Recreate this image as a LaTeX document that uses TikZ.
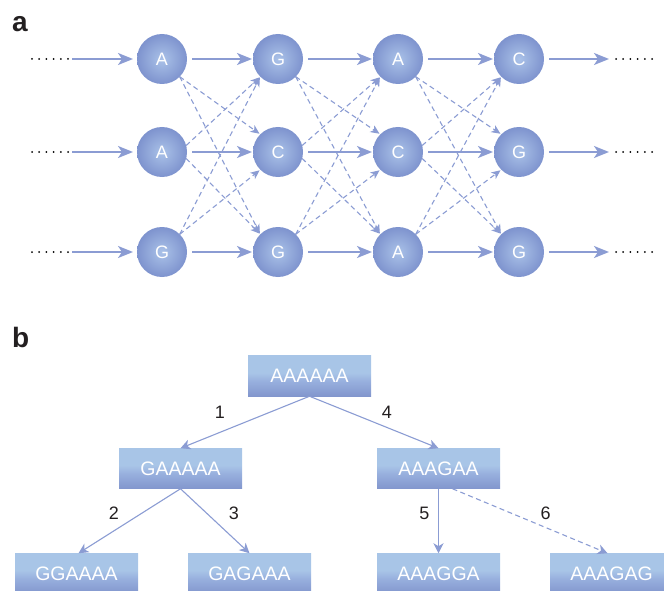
\documentclass[tikz,border=0pt]{standalone}
\usepackage{fontspec}
\setmainfont{Liberation Sans}
\usetikzlibrary{arrows.meta}
\definecolor{lineblue}{HTML}{8B9CD3}
\definecolor{ballin}{HTML}{AAC2E8}
\definecolor{ballout}{HTML}{7E93CE}
\definecolor{blight}{HTML}{A8C5E7}
\definecolor{bmid}{HTML}{98B0DE}
\definecolor{bdark}{HTML}{8296CD}
\definecolor{txtblack}{HTML}{231F20}
\pgfdeclareverticalshading{boxshade}{100bp}{color(0bp)=(bdark); color(25bp)=(bdark); color(44bp)=(bmid); color(54bp)=(blight); color(100bp)=(blight)}
\tikzset{
  ball/.style={circle, minimum size=50pt, inner sep=0pt, outer sep=0pt,
    shading=radial, inner color=ballin, outer color=ballout,
    text=white, font=\fontsize{18}{18}\selectfont},
  seqbox/.style={rectangle, minimum width=123pt, minimum height=40.5pt, inner sep=0pt, outer sep=0pt,
    shading=boxshade, text=white, font=\fontsize{19.5}{20}\selectfont},
  solidarrow/.style={draw=lineblue, line width=2pt, -{Stealth[length=15pt,width=12pt,inset=4pt]}},
  dasharrow/.style={draw=lineblue, line width=1.1pt, dash pattern=on 5pt off 3.5pt, -{Stealth[length=9pt,width=8pt,inset=2.5pt]}, shorten >=1pt},
  dotline/.style={draw=black, line width=2pt, line cap=round, dash pattern=on 0pt off 7.2pt},
  treearrow/.style={draw=lineblue, line width=1.1pt, -{Stealth[length=10pt,width=10pt,inset=3pt]}},
  treedash/.style={treearrow, dash pattern=on 5pt off 3.5pt},
  numlabel/.style={text=txtblack, font=\fontsize{18}{18}\selectfont, inner sep=0pt},
  panel/.style={text=txtblack, font=\fontsize{28}{28}\selectfont\bfseries, inner sep=0pt, anchor=base west}
}
\begin{document}
\begin{tikzpicture}[x=1pt,y=-1pt]
\useasboundingbox (0,0) rectangle (664,591);
% panel labels
\node[panel] (pa) at (12,32) {a};
\node[panel] (pb) at (12,347) {b};
% ---- part a ----
\node[ball] (c11) at (162,59) {A};
\node[ball] (c21) at (278,59) {G};
\node[ball] (c31) at (398,59) {A};
\node[ball] (c41) at (519,59) {C};
\node[ball] (c12) at (162,152) {A};
\node[ball] (c22) at (278,152) {C};
\node[ball] (c32) at (398,152) {C};
\node[ball] (c42) at (519,152) {G};
\node[ball] (c13) at (162,252) {G};
\node[ball] (c23) at (278,252) {G};
\node[ball] (c33) at (398,252) {A};
\node[ball] (c43) at (519,252) {G};
\foreach \r/\y in {1/59,2/152,3/252}{
  \coordinate (ld\r) at (32,\y);
  \coordinate (le\r) at (68.5,\y);
  \coordinate (ls\r) at (72,\y);
  \coordinate (rt\r) at (609,\y);
  \coordinate (rd\r) at (616,\y);
  \coordinate (re\r) at (652.5,\y);
  \draw[dotline] (ld\r) -- (le\r);
  \draw[dotline] (rd\r) -- (re\r);
  \draw[solidarrow, shorten >=4pt] (ls\r) -- (c1\r);
  \draw[solidarrow, shorten <=5pt, shorten >=1pt] (c1\r) -- (c2\r);
  \draw[solidarrow, shorten <=5pt, shorten >=1pt] (c2\r) -- (c3\r);
  \draw[solidarrow, shorten <=5pt, shorten >=1pt] (c3\r) -- (c4\r);
  \draw[solidarrow, shorten <=5pt] (c4\r) -- (rt\r);
}
\foreach \a/\b in {1/2,2/3,3/4}{
  \draw[dasharrow] (c\a1.-45) -- (c\b2.135);
  \draw[dasharrow] (c\a1.-45) -- (c\b3.135);
  \draw[dasharrow] (c\a2.15) -- (c\b1.-135);
  \draw[dasharrow] (c\a2.-15) -- (c\b3.135);
  \draw[dasharrow] (c\a3.45) -- (c\b1.-135);
  \draw[dasharrow] (c\a3.45) -- (c\b2.-135);
}
% ---- part b ----
\node[seqbox] (r) at (309.5,376) {AAAAAA};
\node[seqbox] (n1) at (180.5,468.5) {GAAAAA};
\node[seqbox] (n4) at (438.5,468.5) {AAAGAA};
\node[seqbox] (n2) at (76.5,573.5) {GGAAAA};
\node[seqbox] (n3) at (249.5,573.5) {GAGAAA};
\node[seqbox] (n5) at (438.5,573.5) {AAAGGA};
\node[seqbox] (n6) at (611.5,573.5) {AAAGAG};
\draw[treearrow] (r.south) -- (n1.north);
\draw[treearrow] (r.south) -- (n4.north);
\draw[treearrow] (n1.south) -- ([xshift=2pt]n2.north);
\draw[treearrow] (n1.south) -- (n3.north);
\draw[treearrow] (n4.south) -- (n5.north);
\draw[treedash] ([xshift=14pt]n4.south) -- ([xshift=-4pt]n6.north);
\node[numlabel] (l1) at (220,412) {1};
\node[numlabel] (l4) at (387,412) {4};
\node[numlabel] (l2) at (114,513) {2};
\node[numlabel] (l3) at (234,513) {3};
\node[numlabel] (l5) at (424.5,513) {5};
\node[numlabel] (l6) at (545.5,513) {6};
\end{tikzpicture}
\end{document}
